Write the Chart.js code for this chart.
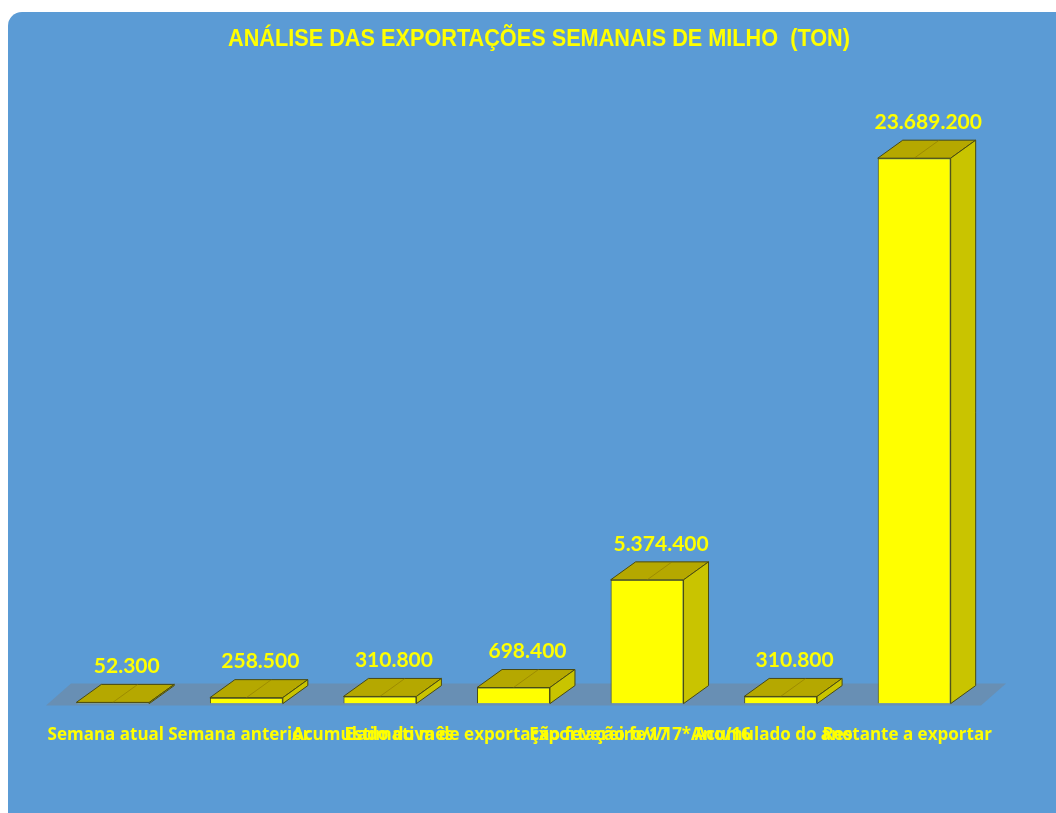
<!DOCTYPE html>
<html>
<head>
<meta charset="utf-8">
<script src="https://cdn.jsdelivr.net/npm/chart.js@4/dist/chart.umd.min.js"></script>
<style>
  html, body { margin: 0; padding: 0; background: #ffffff; overflow: hidden; }
  #panel {
    position: absolute; left: 8px; top: 12px; width: 1080px; height: 830px;
    background: #5b9bd5; border-radius: 14px;
  }
  #wrap { position: absolute; left: 0; top: 0; width: 1056px; height: 813px; }
</style>
</head>
<body>
<div id="panel"></div>
<div id="wrap"><canvas id="grafico"></canvas></div>
<script>
const titulo = "ANÁLISE DAS EXPORTAÇÕES SEMANAIS DE MILHO  (TON)";
const categorias = [
  "Semana atual",
  "Semana anterior",
  "Acumulado do mês",
  "Estimativa de exportação fevereiro/17",
  "Exportação fev/17*Ano/16",
  "Acumulado do ano",
  "Restante a exportar"
];
const toneladas = [52300, 258500, 310800, 698400, 5374400, 310800, 23689200];
const eixoMax = 25000000;

const amarelo = "#ffff00";
const topo = "#b5a800";
const lado = "#c9c400";
const contorno = "#4a4a10";
const prof = { dx: 25, dy: 18 };

function formatTon(n) {
  return n.toString().replace(/\B(?=(\d{3})+(?!\d))/g, ".");
}

// titulo estreito (tipo Calibri), centrado no painel
const tituloPlugin = {
  id: "tituloPlugin",
  afterDraw(chart) {
    const ctx = chart.ctx;
    ctx.save();
    ctx.font = "bold 23px 'Liberation Sans'";
    const w = ctx.measureText(titulo).width;
    const esc = 622 / w;
    ctx.translate(539, 40);
    ctx.scale(esc, 1);
    ctx.fillStyle = amarelo;
    ctx.textAlign = "center";
    ctx.textBaseline = "middle";
    ctx.fillText(titulo, 0, 0);
    ctx.restore();
  }
};

const barras3d = {
  id: "barras3d",
  beforeDatasetsDraw(chart) {
    const { ctx, chartArea } = chart;
    const b = chartArea.bottom;
    ctx.save();
    ctx.fillStyle = "rgba(120,128,140,0.45)";
    ctx.beginPath();
    ctx.moveTo(chartArea.left, b + 2);
    ctx.lineTo(chartArea.right, b + 2);
    ctx.lineTo(chartArea.right + prof.dx, b - prof.dy - 2);
    ctx.lineTo(chartArea.left + prof.dx, b - prof.dy - 2);
    ctx.closePath();
    ctx.fill();
    ctx.restore();
  },
  afterDatasetsDraw(chart) {
    const { ctx } = chart;
    const meta = chart.getDatasetMeta(0);
    ctx.save();
    ctx.lineWidth = 1;
    ctx.strokeStyle = contorno;
    meta.data.forEach((bar, i) => {
      const p = bar.getProps(["x", "y", "base", "width"], true);
      const l = p.x - p.width / 2, r = p.x + p.width / 2;
      const t = p.y, bt = p.base;
      // topo
      ctx.fillStyle = topo;
      ctx.beginPath();
      ctx.moveTo(l, t);
      ctx.lineTo(r, t);
      ctx.lineTo(r + prof.dx, t - prof.dy);
      ctx.lineTo(l + prof.dx, t - prof.dy);
      ctx.closePath();
      ctx.fill();
      ctx.stroke();
      ctx.save();
      ctx.strokeStyle = "rgba(140,120,0,0.6)";
      ctx.beginPath();
      ctx.moveTo(p.x, t);
      ctx.lineTo(p.x + prof.dx, t - prof.dy);
      ctx.stroke();
      ctx.restore();
      // lado
      ctx.fillStyle = lado;
      ctx.beginPath();
      ctx.moveTo(r, t);
      ctx.lineTo(r + prof.dx, t - prof.dy);
      ctx.lineTo(r + prof.dx, bt - prof.dy);
      ctx.lineTo(r, bt);
      ctx.closePath();
      ctx.fill();
      ctx.stroke();
      // rotulo do valor
      ctx.fillStyle = amarelo;
      ctx.font = "bold 21px Lato";
      ctx.textAlign = "center";
      ctx.textBaseline = "middle";
      ctx.fillText(formatTon(toneladas[i]), p.x + 14, t - prof.dy - 18);
    });
    ctx.restore();
  }
};

new Chart(document.getElementById("grafico"), {
  type: "bar",
  data: {
    labels: categorias,
    datasets: [{
      data: toneladas,
      backgroundColor: amarelo,
      borderColor: contorno,
      borderWidth: 1,
      barPercentage: 0.546,
      categoryPercentage: 1
    }]
  },
  options: {
    responsive: true,
    maintainAspectRatio: false,
    animation: false,
    layout: { padding: { top: 128, left: 46, right: 75, bottom: 47 } },
    plugins: {
      legend: { display: false },
      tooltip: { enabled: false },
      title: { display: false }
    },
    scales: {
      x: {
        grid: { display: false, drawTicks: false },
        border: { display: false },
        ticks: {
          color: amarelo,
          autoSkip: false,
          maxRotation: 0,
          minRotation: 0,
          padding: 21,
          labelOffset: -7,
          font: { family: "Open Sans", size: 17, weight: "bold" }
        }
      },
      y: {
        display: false,
        min: 0,
        max: eixoMax
      }
    }
  },
  plugins: [barras3d, tituloPlugin]
});
</script>
</body>
</html>
